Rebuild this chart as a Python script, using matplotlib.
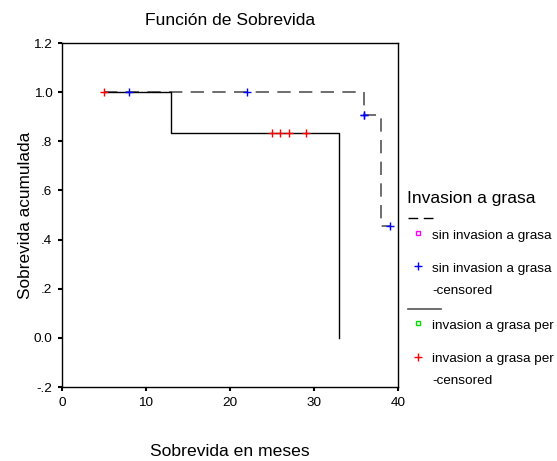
import matplotlib
matplotlib.use("Agg")
import matplotlib.pyplot as plt
from matplotlib.lines import Line2D

plt.rcParams['font.family'] = ['Liberation Sans', 'DejaVu Sans']

# Data
sin_step_t = [5, 36, 38, 39]
sin_step_s = [1.0, 0.909, 0.4545, 0.4545]
sin_cens_t = [8, 22, 36, 36, 39]
sin_cens_s = [1.0, 1.0, 0.909, 0.909, 0.4545]

inv_step_t = [5, 13, 33]
inv_step_s = [1.0, 0.833, 0.0]
inv_cens_t = [5, 25, 26, 27, 29]
inv_cens_s = [1.0, 0.833, 0.833, 0.833, 0.833]

x_ticks = [0, 10, 20, 30, 40]
y_ticks = [-0.2, 0.0, 0.2, 0.4, 0.6, 0.8, 1.0, 1.2]
y_tick_labels = ['-.2', '0.0', '.2', '.4', '.6', '.8', '1.0', '1.2']

legend_title = 'Invasion a grasa'
legend_labels = ['sin invasion a grasa', 'sin invasion a grasa\n-censored',
                 'invasion a grasa per', 'invasion a grasa per\n-censored']

W, H = 557, 461
fig = plt.figure(figsize=(W / 100, H / 100), dpi=100)
ax = fig.add_axes([62 / W, 1 - 387 / H, (398 - 62) / W, (387 - 43) / H])

dash_col = '#555555'
ax.plot(sin_step_t, sin_step_s, drawstyle='steps-post', color=dash_col,
        lw=1.2, dashes=(8, 5))
ax.plot(inv_step_t, inv_step_s, drawstyle='steps-post', color='black', lw=1.0)
ax.plot(sin_cens_t, sin_cens_s, ls='none', marker='+', color='blue', ms=6, mew=1.0)
ax.plot(inv_cens_t, inv_cens_s, ls='none', marker='+', color='red', ms=6, mew=1.0)

ax.set_xlim(0, 40)
ax.set_ylim(-0.2, 1.2)
ax.set_xticks(x_ticks)
ax.set_yticks(y_ticks)
ax.set_yticklabels(y_tick_labels)
ax.tick_params(direction='out', length=3, width=1.5, labelsize=9.7, pad=4)
for sp in ax.spines.values():
    sp.set_linewidth(1.0)

ax.set_title('Función de Sobrevida', fontsize=12.6, pad=13)
ax.set_xlabel('Sobrevida en meses', fontsize=12.6, labelpad=25.5)
ax.set_ylabel('Sobrevida acumulada', fontsize=12.4, labelpad=0.5)


def fy(y):
    return 1 - y / H


def fx(x):
    return x / W


# Legend (manual)
lf = 9.7
fig.text(fx(407), fy(199), legend_title, fontsize=12.6, va='center', ha='left')
fig.add_artist(Line2D([fx(408), fx(436)], [fy(218), fy(218)], color='black',
                      lw=1.0, dashes=(7, 4)))
fig.add_artist(Line2D([fx(418)], [fy(233)], marker='s', ms=3.5, mfc='none',
                      mec='magenta', mew=1.0, ls='none'))
fig.text(fx(432), fy(236), legend_labels[0], fontsize=lf, va='center')
fig.add_artist(Line2D([fx(418)], [fy(266)], marker='+', ms=6, color='blue',
                      mew=1.0, ls='none'))
fig.text(fx(432), fy(269), 'sin invasion a grasa', fontsize=lf, va='center')
fig.text(fx(432), fy(291), '-censored', fontsize=lf, va='center')
fig.add_artist(Line2D([fx(408), fx(441)], [fy(309), fy(309)], color='#555555', lw=1.2))
fig.add_artist(Line2D([fx(418)], [fy(323)], marker='s', ms=3.5, mfc='none',
                      mec='#00dd00', mew=1.0, ls='none'))
fig.text(fx(432), fy(326), legend_labels[2], fontsize=lf, va='center')
fig.add_artist(Line2D([fx(418)], [fy(357)], marker='+', ms=6, color='red',
                      mew=1.0, ls='none'))
fig.text(fx(432), fy(359), 'invasion a grasa per', fontsize=lf, va='center')
fig.text(fx(432), fy(381), '-censored', fontsize=lf, va='center')

fig.savefig('out.png', dpi=100)
